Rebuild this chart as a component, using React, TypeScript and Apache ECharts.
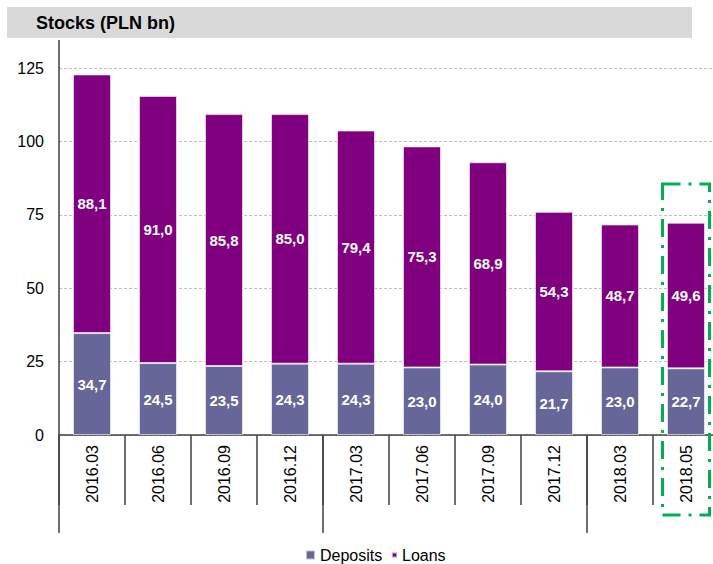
import React, { useEffect, useRef } from "react";
import * as echarts from "echarts";

const categories = ["2016.03", "2016.06", "2016.09", "2016.12", "2017.03", "2017.06", "2017.09", "2017.12", "2018.03", "2018.05"];
const deposits = [34.7, 24.5, 23.5, 24.3, 24.3, 23.0, 24.0, 21.7, 23.0, 22.7];
const loans = [88.1, 91.0, 85.8, 85.0, 79.4, 75.3, 68.9, 54.3, 48.7, 49.6];
const yTicks = { min: 0, max: 125, interval: 25 };
const highlightIndex = 9;

const FONT = "'Liberation Sans', Arial, sans-serif";

const fmt = (v: number) => v.toFixed(1).replace(".", ",");

export default function App() {
  const ref = useRef<HTMLDivElement>(null);

  useEffect(() => {
    document.body.style.margin = "0";
    if (!ref.current) return;
    const chart = echarts.init(ref.current, null, { renderer: "svg" });

    const labelStyle = {
      show: true,
      position: "inside" as const,
      color: "#fff",
      fontSize: 15,
      fontWeight: "bold" as const,
      fontFamily: FONT,
      formatter: (p: any) => fmt(p.value),
    };

    chart.setOption({
      animation: false,
      textStyle: { fontFamily: FONT },
      title: {
        text: "Stocks (PLN bn)",
        left: 36,
        top: 14,
        padding: 0,
        textStyle: { fontSize: 18, fontWeight: "bold", color: "#000", fontFamily: FONT },
      },
      legend: [
        {
          data: ["Deposits"],
          left: 305,
          top: 547,
          padding: 0,
          itemWidth: 9,
          itemHeight: 9,
          icon: "rect",
          textStyle: { fontSize: 16, color: "#000", fontFamily: FONT },
        },
        {
          data: ["Loans"],
          left: 391,
          top: 547,
          padding: 0,
          itemWidth: 5,
          itemHeight: 5,
          icon: "rect",
          textStyle: { fontSize: 16, color: "#000", fontFamily: FONT },
        },
      ],
      grid: { left: 59, width: 660, top: 68, height: 367, containLabel: false, outerBoundsMode: "none" },
      xAxis: [
        {
          type: "category",
          data: categories,
          boundaryGap: true,
          axisLine: { show: true, lineStyle: { color: "#404040", width: 1.5 } },
          axisTick: { show: true, interval: 0, length: 70, lineStyle: { color: "#404040", width: 1.5 } },
          axisLabel: {
            interval: 0,
            rotate: 90,
            margin: 10,
            fontSize: 16,
            color: "#000",
            fontFamily: FONT,
          },
        },
        {
          type: "category",
          data: categories,
          position: "bottom",
          boundaryGap: true,
          axisLine: { show: false },
          axisLabel: { show: false },
          axisTick: {
            show: true,
            length: 98,
            interval: (i: number) => i % 4 === 0,
            lineStyle: { color: "#404040", width: 1.5 },
          },
        },
      ],
      yAxis: {
        type: "value",
        min: yTicks.min,
        max: yTicks.max,
        interval: yTicks.interval,
        axisLine: { show: true, lineStyle: { color: "#404040", width: 1.5 } },
        axisTick: { show: false },
        axisLabel: { fontSize: 16, color: "#000", margin: 15, fontFamily: FONT },
        splitLine: { show: true, lineStyle: { color: "#BFBFBF", type: [3, 2], width: 1 } },
      },
      series: [
        {
          name: "Deposits",
          type: "bar",
          stack: "s",
          barWidth: 38,
          data: deposits,
          itemStyle: { color: "#666699", borderColor: "rgba(255,255,255,0.6)", borderWidth: 1 },
          label: labelStyle,
        },
        {
          name: "Loans",
          type: "bar",
          stack: "s",
          barWidth: 38,
          data: loans,
          itemStyle: { color: "#800080", borderColor: "rgba(255,255,255,0.6)", borderWidth: 1 },
          label: labelStyle,
        },
      ],
    });

    const cx = chart.convertToPixel({ xAxisIndex: 0 }, categories[highlightIndex]) as number;
    const axisX = 59;
    const y0 = chart.convertToPixel({ yAxisIndex: 0 }, 0) as number;
    const yTop = chart.convertToPixel({ yAxisIndex: 0 }, yTicks.max) as number;

    chart.setOption({
      graphic: [
        {
          type: "rect",
          z: -10,
          shape: { x: 7, y: 7, width: 685, height: 31 },
          style: { fill: "#D9D9D9" },
        },
        {
          type: "line",
          shape: { x1: axisX, y1: 40, x2: axisX, y2: yTop },
          style: { stroke: "#404040", lineWidth: 1.5 },
        },
        {
          type: "rect",
          z: 100,
          shape: { x: cx - 23.5, y: 184, width: 47, height: y0 + 80 - 184 },
          style: { fill: "none", stroke: "#00B050", lineWidth: 3, lineDash: [18, 8, 3, 8] },
        },
      ],
    });

    return () => chart.dispose();
  }, []);

  return <div ref={ref} style={{ width: 713, height: 564 }} />;
}
